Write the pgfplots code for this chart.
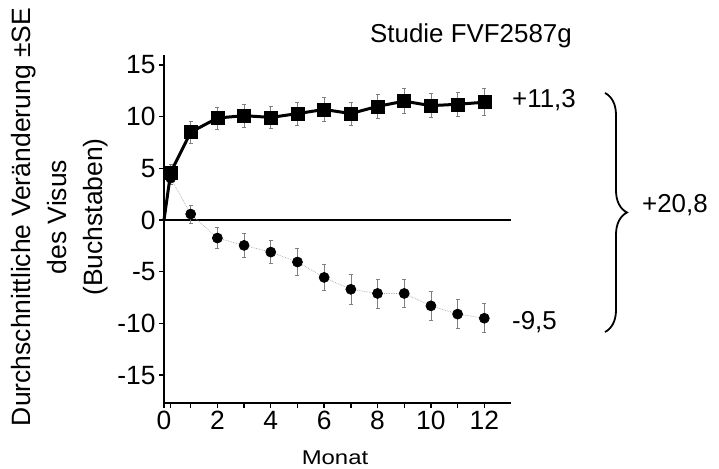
\documentclass[border=0pt]{standalone}
\usepackage{fontspec}
\setmainfont{Liberation Sans}
\usepackage{pgfplots}
\pgfplotsset{compat=1.18}
\usetikzlibrary{decorations.pathreplacing}

\newcommand{\fbig}{\fontsize{26}{26}\selectfont}
\newcommand{\ftick}{\fontsize{26.5}{26.5}\selectfont}
\newcommand{\flab}{\fontsize{26.6}{36}\selectfont}

\pgfplotsset{
    sebar/.style={
        draw=none, mark=none, forget plot,
        error bars/.cd, y dir=both, y explicit,
        error bar style={gray, line width=0.6bp},
        error mark options={rotate=90, gray, mark size=2bp, line width=0.6bp},
    },
}

\begin{document}
\begin{tikzpicture}[x=1bp,y=1bp]
\path[use as bounding box] (-164,-66) rectangle (555,403);
\begin{axis}[
    at={(0,0)}, anchor=south west,
    scale only axis, width=347bp, height=348bp,
    xmin=0, xmax=13, ymin=-17.7, ymax=15.97,
    axis x line=bottom, axis y line=left,
    axis line style={-, line width=2.4bp},
    xtick={0,2,4,6,8,10,12},
    xticklabels={0,2,4,6,8,10,12},
    minor xtick={0.25,1,3,5,7,9,11},
    ytick={-15,-10,-5,0,5,10,15},
    yticklabels={-15,-10,-5,0,5,10,15},
    tick align=outside,
    major tick length=5bp, minor tick length=5bp,
    tick style={black, line width=1.4bp},
    tick label style={font=\ftick},
    clip=false,
]
% Nulllinie
\draw[line width=2.4bp] (axis cs:0,0) -- (axis cs:13,0);

% Kontrolle (Kreise)
\addplot[sebar] coordinates {
    (0.25,4.06) +- (0,0.6) (1,0.58) +- (0,0.85) (2,-1.74) +- (0,1.0)
    (3,-2.45) +- (0,1.15) (4,-3.1) +- (0,1.1) (5,-4.06) +- (0,1.3)
    (6,-5.55) +- (0,1.25) (7,-6.7) +- (0,1.45) (8,-7.1) +- (0,1.4)
    (9,-7.1) +- (0,1.35) (10,-8.3) +- (0,1.4) (11,-9.1) +- (0,1.4)
    (12,-9.5) +- (0,1.4)
};
\addplot[gray!70, densely dotted, line width=0.7bp, forget plot] coordinates {(0,0) (0.25,4.06)};
\addplot[gray!70, densely dotted, line width=0.7bp, mark=*, mark size=5bp,
    mark options={solid, fill=black, draw=black}] coordinates {
    (0.25,4.06) (1,0.58) (2,-1.74) (3,-2.45) (4,-3.1) (5,-4.06) (6,-5.55)
    (7,-6.7) (8,-7.1) (9,-7.1) (10,-8.3) (11,-9.1) (12,-9.5)
};

% Behandlung (Quadrate)
\addplot[sebar] coordinates {
    (0.25,4.6) +- (0,0.8) (1,8.5) +- (0,1.05) (2,9.87) +- (0,1.05)
    (3,10.1) +- (0,1.1) (4,9.93) +- (0,1.1) (5,10.3) +- (0,1.1)
    (6,10.7) +- (0,1.15) (7,10.3) +- (0,1.1) (8,11.0) +- (0,1.15)
    (9,11.5) +- (0,1.2) (10,11.07) +- (0,1.15) (11,11.2) +- (0,1.2)
    (12,11.4) +- (0,1.3)
};
\addplot[black, line width=3bp, forget plot] coordinates {(0,0) (0.25,4.6)};
\addplot[black, line width=3bp, mark=square*, mark size=6.5bp,
    mark options={solid, line width=0.5bp}] coordinates {
    (0.25,4.6) (1,8.5) (2,9.87) (3,10.1) (4,9.93) (5,10.3) (6,10.7)
    (7,10.3) (8,11.0) (9,11.5) (10,11.07) (11,11.2) (12,11.4)
};
\end{axis}

% Beschriftungen
\node[rotate=90, align=center, font=\flab] at (-104,186)
    {Durchschnittliche Veränderung ±SE\\des Visus\\(Buchstaben)};
\node[anchor=base, font=\fontsize{20}{20}\selectfont] at (171,-62) {\scalebox{1.2}[1]{Monat}};
\node[anchor=base west, font=\fbig, inner sep=0pt] at (206,360) {Studie FVF2587g};
\node[anchor=base west, font=\fbig, inner sep=0pt] at (348,295) {+11,3};
\node[anchor=base west, font=\fbig, inner sep=0pt] at (348,73) {-9,5};
\node[anchor=base west, font=\fbig, inner sep=0pt] at (478,190) {+20,8};
\draw[decorate, decoration={brace, amplitude=22bp}, line width=1.8bp] (441,310) -- (441,71);
\end{tikzpicture}
\end{document}
